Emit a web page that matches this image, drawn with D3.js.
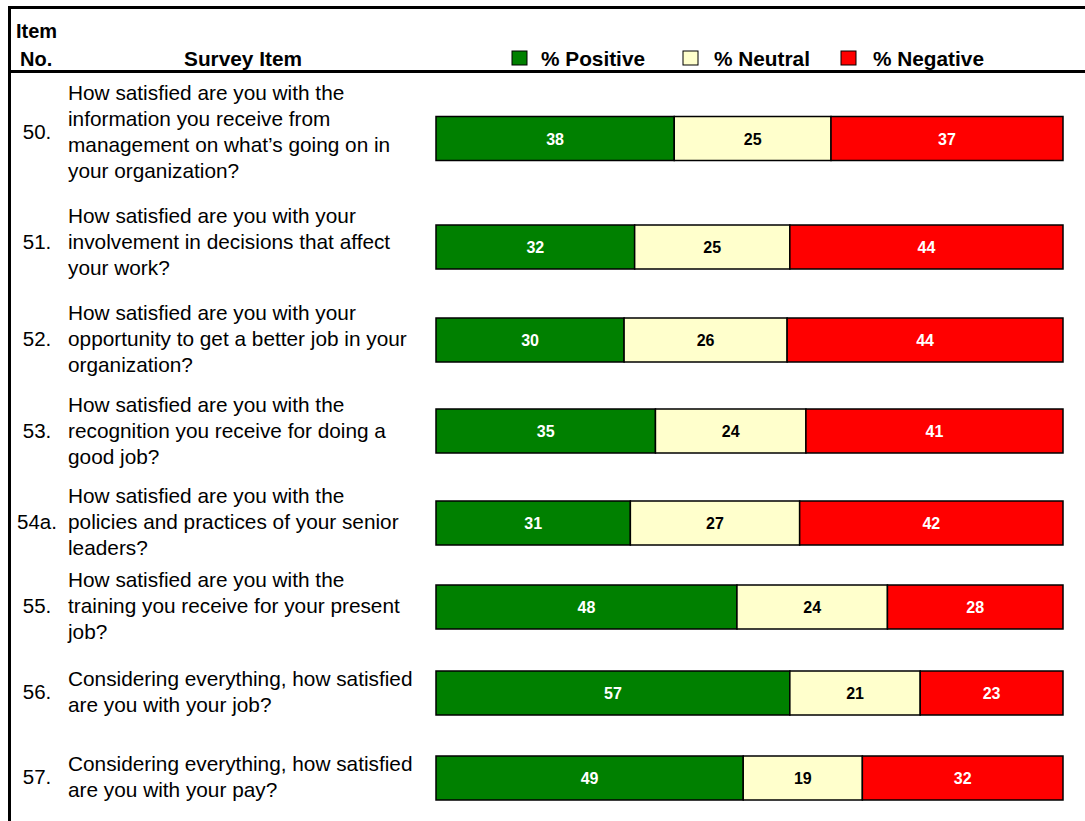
<!DOCTYPE html>
<html>
<head>
<meta charset="utf-8">
<script src="https://cdn.jsdelivr.net/npm/d3@7/dist/d3.min.js"></script>
<style>
  html, body { margin: 0; padding: 0; background: #fff; }
  svg { display: block; font-family: "Liberation Sans", Arial, sans-serif; }
</style>
</head>
<body>
<svg id="chart" width="1085" height="821"></svg>
<script>
// Survey items and their response shares
const itemNumbers = ["50.", "51.", "52.", "53.", "54a.", "55.", "56.", "57."];
const itemText = [
  ["How satisfied are you with the", "information you receive from", "management on what\u2019s going on in", "your organization?"],
  ["How satisfied are you with your", "involvement in decisions that affect", "your work?"],
  ["How satisfied are you with your", "opportunity to get a better job in your", "organization?"],
  ["How satisfied are you with the", "recognition you receive for doing a", "good job?"],
  ["How satisfied are you with the", "policies and practices of your senior", "leaders?"],
  ["How satisfied are you with the", "training you receive for your present", "job?"],
  ["Considering everything, how satisfied", "are you with your job?"],
  ["Considering everything, how satisfied", "are you with your pay?"]
];
const positive = [38, 32, 30, 35, 31, 48, 57, 49];
const neutral  = [25, 25, 26, 24, 27, 24, 21, 19];
const negative = [37, 44, 44, 41, 42, 28, 23, 32];
const seriesNames = ["% Positive", "% Neutral", "% Negative"];

// Layout
const textCenters = [132, 242, 339, 431, 522, 606, 692, 777];
const barCenters  = [138.5, 247, 340, 431, 523, 607, 693, 778];
const barHeight = 44;
const lineHeight = 26.3;
const barLeft = 436, barRight = 1063;
const colors = ["#008000", "#FFFFCC", "#FF0000"];
const labelColors = ["#ffffff", "#000000", "#ffffff"];
const legendBoxX = [512, 683, 841];
const legendTextX = [541, 714, 873];

const svg = d3.select("#chart");

// Frame lines
svg.append("line").attr("x1", 8).attr("x2", 1085).attr("y1", 7.5).attr("y2", 7.5)
  .attr("stroke", "#000").attr("stroke-width", 3);
svg.append("line").attr("x1", 8).attr("x2", 1085).attr("y1", 71.5).attr("y2", 71.5)
  .attr("stroke", "#000").attr("stroke-width", 3);
svg.append("line").attr("x1", 9.5).attr("x2", 9.5).attr("y1", 6).attr("y2", 821)
  .attr("stroke", "#000").attr("stroke-width", 3);

// Header
const header = svg.append("g").attr("font-weight", "bold").attr("font-size", 20).attr("fill", "#000");
header.append("text").attr("x", 16).attr("y", 38).text("Item");
header.append("text").attr("x", 20).attr("y", 66).text("No.");
header.append("text").attr("x", 243).attr("y", 66).attr("text-anchor", "middle")
  .attr("font-size", 20.8).text("Survey Item");

// Legend
const legend = svg.append("g");
seriesNames.forEach((name, i) => {
  legend.append("rect").attr("x", legendBoxX[i]).attr("y", 51).attr("width", 15).attr("height", 14)
    .attr("fill", colors[i]).attr("stroke", "#000").attr("stroke-width", 1);
  legend.append("text").attr("x", legendTextX[i]).attr("y", 66)
    .attr("font-weight", "bold").attr("font-size", 20.8).text(name);
});

// Rows
const rows = itemNumbers.map((num, i) => {
  const vals = [positive[i], neutral[i], negative[i]];
  const stack = [];
  let acc = 0;
  vals.forEach((v, k) => { stack.push({ k, v, x0: acc, x1: acc + v }); acc += v; });
  return { num, lines: itemText[i], stack, total: acc, ty: textCenters[i], by: barCenters[i] };
});

const rowG = svg.selectAll("g.row").data(rows).join("g").attr("class", "row");

rowG.append("text")
  .attr("x", 37)
  .attr("y", d => d.ty + 7)
  .attr("text-anchor", "middle")
  .attr("font-size", 20.5)
  .text(d => d.num);

rowG.append("text")
  .attr("font-size", 20.8)
  .each(function (d) {
    const n = d.lines.length;
    const top = d.ty - (n - 1) * lineHeight / 2 + 7;
    d3.select(this).selectAll("tspan").data(d.lines).join("tspan")
      .attr("x", 68)
      .attr("y", (t, j) => top + j * lineHeight)
      .text(t => t);
  });

rowG.each(function (d) {
  const x = d3.scaleLinear().domain([0, d.total]).range([barLeft, barRight]);
  const g = d3.select(this);
  const y0 = d.by - barHeight / 2;
  g.selectAll("rect.seg").data(d.stack).join("rect").attr("class", "seg")
    .attr("x", s => x(s.x0))
    .attr("y", y0)
    .attr("width", s => x(s.x1) - x(s.x0))
    .attr("height", barHeight)
    .attr("fill", s => colors[s.k])
    .attr("stroke", "#000")
    .attr("stroke-width", 1.5);
  g.selectAll("text.val").data(d.stack).join("text").attr("class", "val")
    .attr("x", s => (x(s.x0) + x(s.x1)) / 2)
    .attr("y", d.by + 6)
    .attr("text-anchor", "middle")
    .attr("font-weight", "bold")
    .attr("font-size", 16)
    .attr("fill", s => labelColors[s.k])
    .text(s => s.v);
});
</script>
</body>
</html>
